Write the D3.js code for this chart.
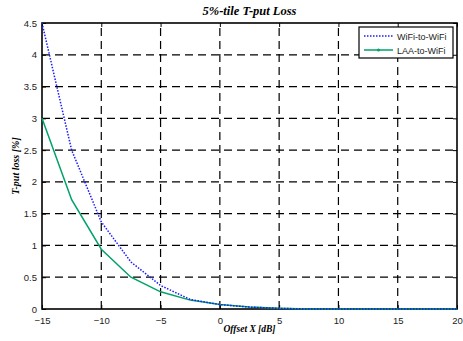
<!DOCTYPE html>
<html>
<head>
<meta charset="utf-8">
<script src="https://cdn.jsdelivr.net/npm/d3@7"></script>
<style>
  body { margin: 0; background: #fff; }
  svg text { font-family: "Liberation Sans", Arial, sans-serif; }
</style>
</head>
<body>
<div id="chart"></div>
<script>
var width = 463,
    height = 341

var margin = {top: 23, right: 6, bottom: 32, left: 42}

// data
var offsets = [-15, -12.5, -10, -7.5, -5, -2.5, 0, 2.5, 5, 7.5, 10, 12.5, 15, 17.5, 20]
var wifiLoss = [4.5, 2.5, 1.37, 0.74, 0.37, 0.15, 0.07, 0.03, 0.01, 0, 0, 0, 0, 0, 0]
var laaLoss = [3.0, 1.72, 0.94, 0.5, 0.27, 0.14, 0.07, 0.03, 0.01, 0, 0, 0, 0, 0, 0]
var xTicks = [-15, -10, -5, 0, 5, 10, 15, 20]
var yTicks = [0, 0.5, 1, 1.5, 2, 2.5, 3, 3.5, 4, 4.5]

var svg = d3.select("#chart")
  .append("svg")
    .attr("width", width)
    .attr("height", height)

var x = d3.scaleLinear()
  .domain([-15, 20])
  .range([margin.left, width - margin.right])

var y = d3.scaleLinear()
  .domain([0, 4.5])
  .range([height - margin.bottom, margin.top])

// grid
svg.append("g")
  .selectAll("line")
  .data(xTicks.slice(1, -1))
  .enter()
  .append("line")
    .attr("x1", function(d) { return x(d) })
    .attr("x2", function(d) { return x(d) })
    .attr("y1", y(0))
    .attr("y2", y(4.5))
    .attr("stroke", "#000")
    .attr("stroke-width", 1.2)
    .attr("stroke-dasharray", "8,5")

svg.append("g")
  .selectAll("line")
  .data(yTicks.slice(1, -1))
  .enter()
  .append("line")
    .attr("x1", x(-15))
    .attr("x2", x(20))
    .attr("y1", function(d) { return y(d) })
    .attr("y2", function(d) { return y(d) })
    .attr("stroke", "#000")
    .attr("stroke-width", 1.2)
    .attr("stroke-dasharray", "8,5")

// axes (ticks inward)
svg.append("g")
  .attr("transform", "translate(0," + y(0) + ")")
  .call(d3.axisBottom(x).tickValues(xTicks).tickSize(-4).tickPadding(8).tickFormat(d3.format("d")))
svg.append("g")
  .attr("transform", "translate(0," + y(4.5) + ")")
  .call(d3.axisTop(x).tickValues(xTicks).tickSize(-4).tickFormat(""))
svg.append("g")
  .attr("transform", "translate(" + x(-15) + ",0)")
  .call(d3.axisLeft(y).tickValues(yTicks).tickSize(-4).tickPadding(5).tickFormat(function(d) { return d }))
svg.append("g")
  .attr("transform", "translate(" + x(20) + ",0)")
  .call(d3.axisRight(y).tickValues(yTicks).tickSize(-4).tickFormat(""))

svg.selectAll(".domain").remove()
svg.selectAll(".tick line").attr("stroke", "#000")
svg.selectAll(".tick text")
  .attr("font-size", 9.5)
  .attr("fill", "#222")
  .attr("font-family", "Liberation Sans, Arial, sans-serif")

// frame
svg.append("rect")
  .attr("x", x(-15))
  .attr("y", y(4.5))
  .attr("width", x(20) - x(-15))
  .attr("height", y(0) - y(4.5))
  .attr("fill", "none")
  .attr("stroke", "#000")
  .attr("stroke-width", 1.6)

var line = d3.line()
  .x(function(d) { return x(d[0]) })
  .y(function(d) { return y(d[1]) })

svg.append("path")
  .datum(d3.zip(offsets, laaLoss))
  .attr("d", line)
  .attr("fill", "none")
  .attr("stroke", "#00a267")
  .attr("stroke-width", 1.5)

svg.append("path")
  .datum(d3.zip(offsets, wifiLoss))
  .attr("d", line)
  .attr("fill", "none")
  .attr("stroke", "#1a1aff")
  .attr("stroke-width", 1.5)
  .attr("stroke-dasharray", "1.5,1.5")

// title and labels
svg.append("text")
  .attr("x", (x(-15) + x(20)) / 2)
  .attr("y", 15)
  .attr("text-anchor", "middle")
  .style("font-family", "Liberation Serif, Times New Roman, serif")
  .style("font-style", "italic")
  .style("font-weight", "bold")
  .style("font-size", "12.5px")
  .text("5%-tile T-put Loss")

svg.append("text")
  .attr("x", (x(-15) + x(20)) / 2)
  .attr("y", 332)
  .attr("text-anchor", "middle")
  .style("font-family", "Liberation Serif, Times New Roman, serif")
  .style("font-style", "italic")
  .style("font-weight", "bold")
  .style("font-size", "9.5px")
  .text("Offset X [dB]")

svg.append("text")
  .attr("transform", "translate(19," + (y(0) + y(4.5)) / 2 + ") rotate(-90)")
  .attr("text-anchor", "middle")
  .style("font-family", "Liberation Serif, Times New Roman, serif")
  .style("font-style", "italic")
  .style("font-weight", "bold")
  .style("font-size", "10px")
  .text("T-put loss [%]")

// legend
var legend = svg.append("g").attr("transform", "translate(359,27)")
legend.append("rect")
  .attr("width", 94)
  .attr("height", 31)
  .attr("fill", "#fff")
  .attr("stroke", "#000")
  .attr("stroke-width", 1.2)

var legendItems = [
  {name: "WiFi-to-WiFi", color: "#1a1aff", dash: "1.5,1.5", marker: false},
  {name: "LAA-to-WiFi", color: "#00a267", dash: null, marker: true}
]

legendItems.forEach(function(d, i) {
  var yy = 9 + i * 14
  legend.append("line")
    .attr("x1", 5).attr("x2", 34)
    .attr("y1", yy).attr("y2", yy)
    .attr("stroke", d.color)
    .attr("stroke-width", 1.5)
    .attr("stroke-dasharray", d.dash)
  if (d.marker) {
    legend.append("circle")
      .attr("cx", 19.5).attr("cy", yy).attr("r", 1.5)
      .attr("fill", d.color)
  }
  legend.append("text")
    .attr("x", 38)
    .attr("y", yy + 3.5)
    .attr("font-size", 9)
    .attr("fill", "#222")
    .text(d.name)
})
</script>
</body>
</html>
